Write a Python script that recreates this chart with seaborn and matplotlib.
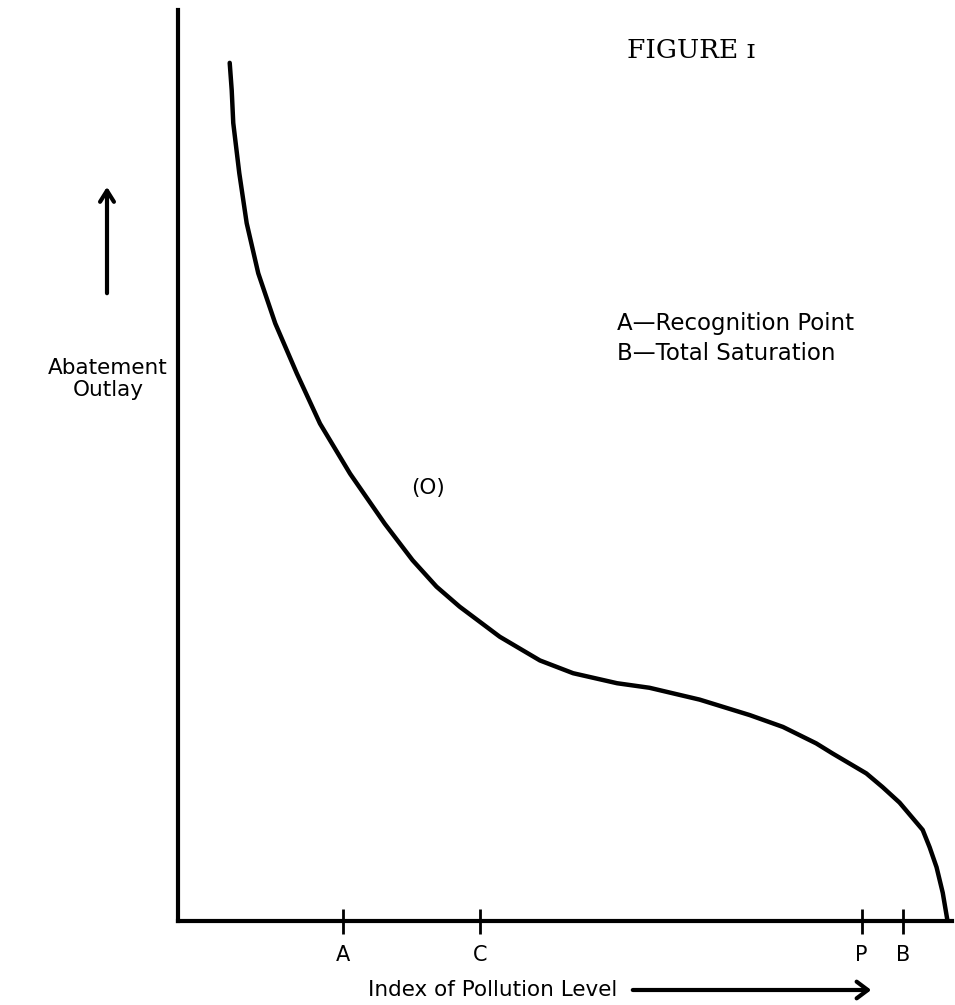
import matplotlib
matplotlib.use("Agg")
import matplotlib.pyplot as plt
import pandas as pd
import seaborn as sns

# curve (x: pollution index 0-100, y: abatement outlay 0-100)
pollution = [6.7, 6.96, 7.16, 7.94, 8.9, 10.4, 12.6, 15.4, 18.4, 22.3, 26.8, 30.4,
             33.5, 36.5, 41.7, 46.9, 51.2, 56.9, 61.1, 67.6, 74.1, 78.4, 82.7, 84.8,
             89.2, 91.3, 93.5, 96.5, 97.4, 98.3, 99.1, 99.7]
outlay = [94.2, 91.2, 87.6, 82.1, 76.6, 71.1, 65.6, 60.1, 54.6, 49.1, 43.6, 39.6,
          36.7, 34.5, 31.2, 28.6, 27.2, 26.1, 25.6, 24.3, 22.6, 21.3, 19.5, 18.4,
          16.2, 14.7, 13.0, 10.0, 8.1, 5.9, 3.1, 0.1]

tick_pos = [21.4, 39.1, 88.6, 94.0]
tick_lab = ["A", "C", "P", "B"]

legend_lines = ["A\u2014Recognition Point", "B\u2014Total Saturation"]

df = pd.DataFrame({"x": pollution, "y": outlay})

sns.set_style("white")
plt.rcParams["font.family"] = ["DejaVu Sans"]
plt.rcParams["text.color"] = "black"
plt.rcParams["xtick.color"] = "black"

W, H = 955, 1005
fig = plt.figure(figsize=(W / 100, H / 100), dpi=100)
ax = fig.add_axes([178 / W, (H - 921) / H, (952 - 178) / W, (921 - 10) / H])

sns.lineplot(data=df, x="x", y="y", ax=ax, color="black", linewidth=3.2,
             estimator=None, sort=False)
ax.lines[0].set_solid_joinstyle("round")
ax.lines[0].set_solid_capstyle("round")

ax.set_xlim(0, 100.3)
ax.set_ylim(0, 100)
ax.set_xlabel("")
ax.set_ylabel("")
sns.despine(ax=ax, top=True, right=True)
for s in ["left", "bottom"]:
    ax.spines[s].set_linewidth(3)
    ax.spines[s].set_color("black")

ax.set_yticks([])
ax.set_xticks(tick_pos)
ax.set_xticklabels(tick_lab, fontsize=15, color="black")
ax.tick_params(axis="x", bottom=True, direction="inout", length=18, width=2,
               pad=8, color="black")

def fx(px):
    return px / W

def fy(py):
    return 1 - py / H

fig.text(fx(691), fy(50), "FIGURE \u026a", family="DejaVu Serif", fontsize=19,
         ha="center", va="center")
for i, line in enumerate(legend_lines):
    fig.text(fx(617), fy(323 + 30 * i), line, fontsize=16.5, ha="left", va="center")

fig.text(fx(108), fy(368), "Abatement", fontsize=15.5, ha="center", va="center")
fig.text(fx(108), fy(390), "Outlay", fontsize=15.5, ha="center", va="center")
fig.text(fx(428), fy(488), "(O)", fontsize=15.5, ha="center", va="center")
fig.text(fx(368), fy(990), "Index of Pollution Level", fontsize=15.5, ha="left", va="center")

# arrows
fig.add_artist(matplotlib.patches.FancyArrowPatch(
    (fx(107), fy(296)), (fx(107), fy(184)), transform=fig.transFigure,
    arrowstyle="->,head_length=8,head_width=5", lw=3, color="black"))
fig.add_artist(matplotlib.patches.FancyArrowPatch(
    (fx(630), fy(990)), (fx(874), fy(990)), transform=fig.transFigure,
    arrowstyle="->,head_length=8,head_width=6", lw=3, color="black"))

fig.savefig("out.png", dpi=100)
